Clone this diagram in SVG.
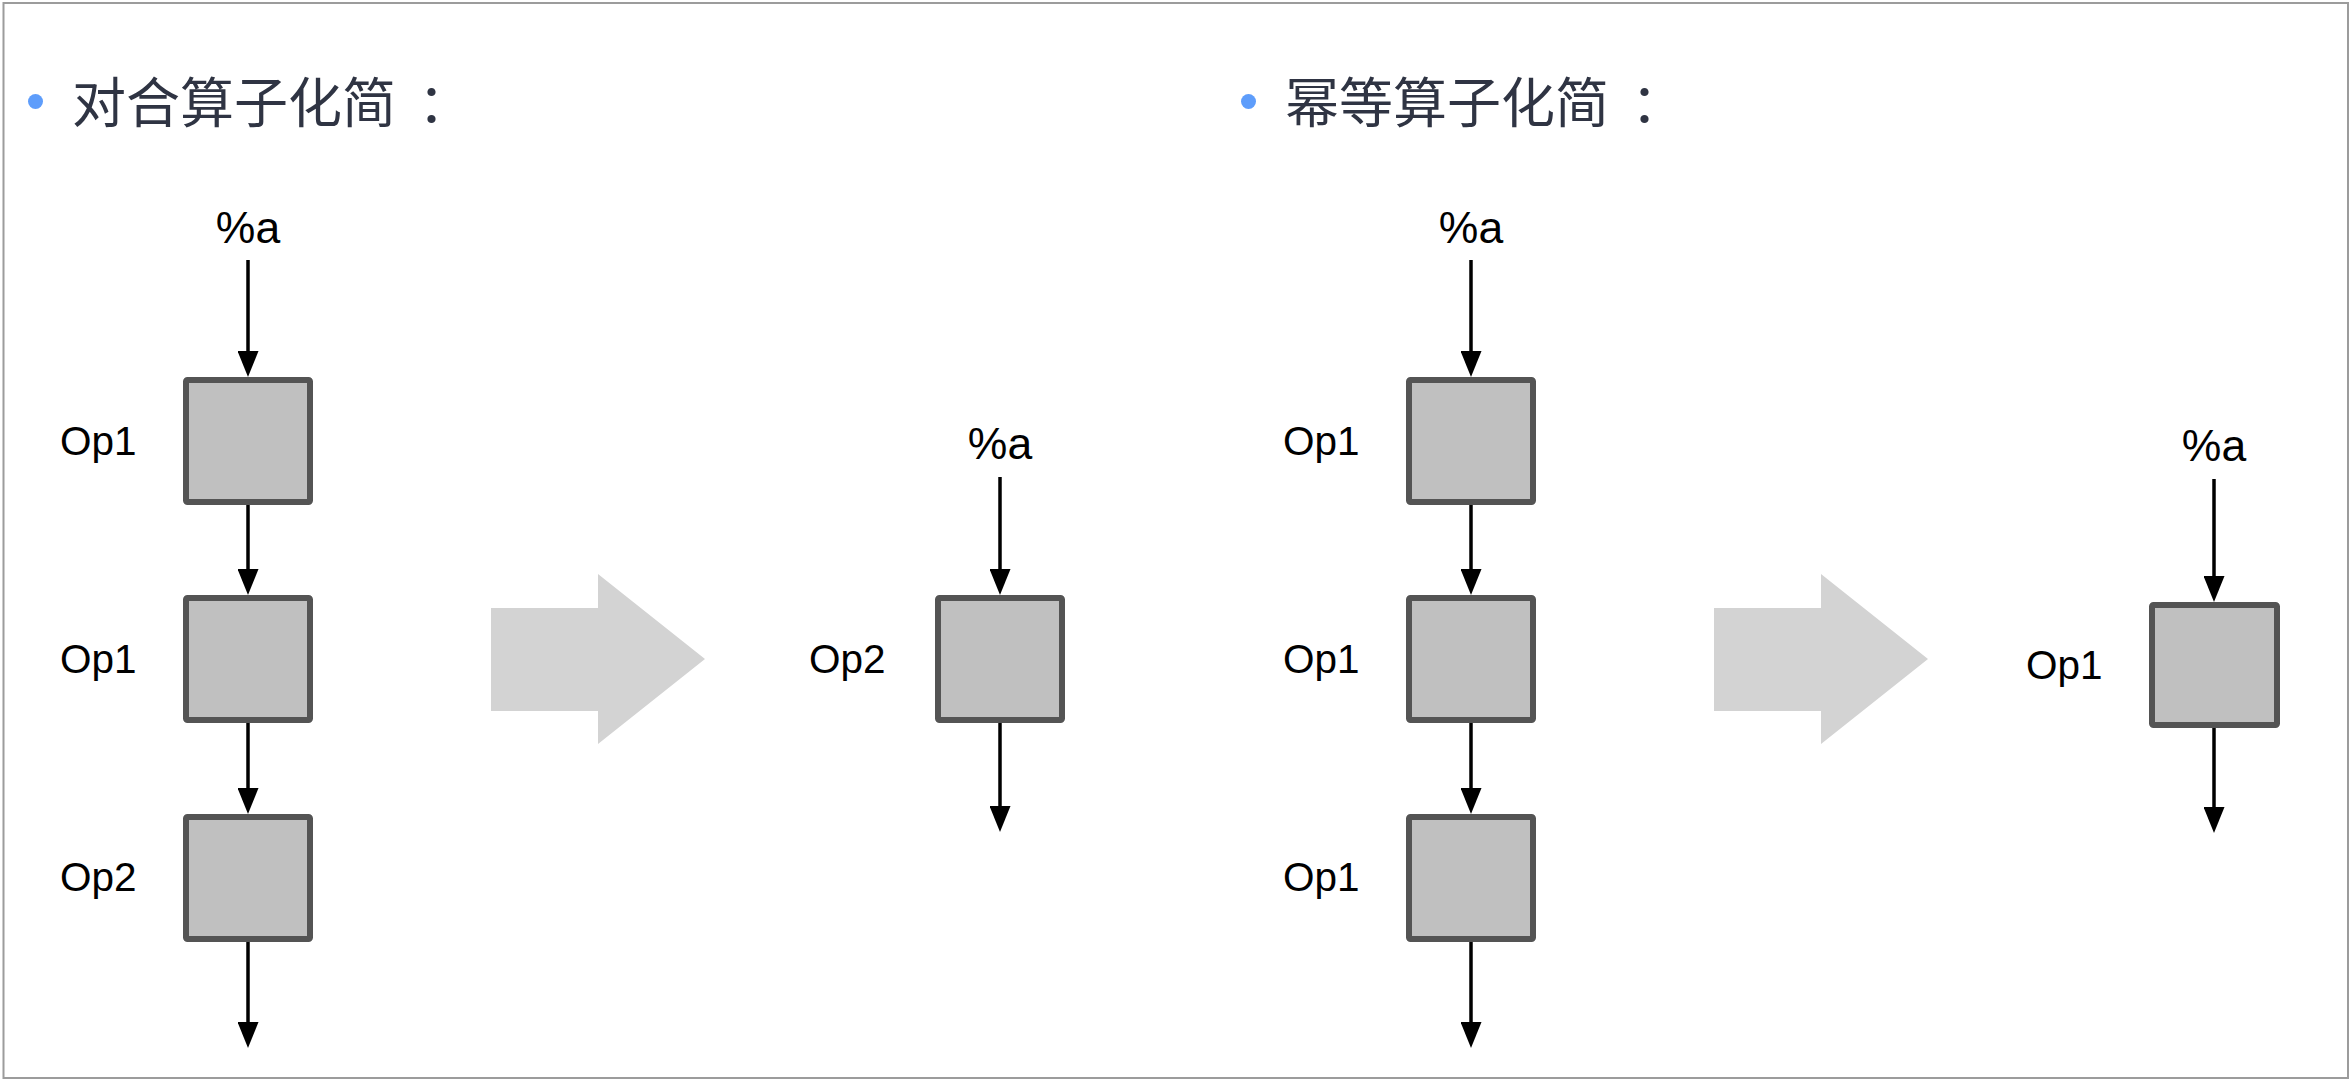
<svg xmlns="http://www.w3.org/2000/svg" width="2352" height="1082" viewBox="0 0 2352 1082">
<defs>
<marker id="ah" viewBox="0 0 26 21" refX="6" refY="10.5" markerWidth="26" markerHeight="21" markerUnits="userSpaceOnUse" orient="auto">
<path d="M0,0 L26,10.5 L0,21 Z" fill="#000"/>
</marker>
<style>
.title{font-family:"Noto Sans CJK SC","Noto Sans",sans-serif;font-size:54px;fill:#2f3443}
.bullet{fill:#5e9dfb}
.lbl{font-family:"Liberation Sans",Arial,sans-serif;font-size:40.5px;fill:#000}
.var{font-family:"Liberation Sans",Arial,sans-serif;font-size:44.5px;fill:#000;text-anchor:middle}
.box{fill:#c0c0c0;stroke:#545454;stroke-width:6}
.edge{stroke:#000;stroke-width:3.5;fill:none;marker-end:url(#ah)}
.big{fill:#d3d3d3}
</style>
</defs>
<rect x="0" y="0" width="2352" height="1082" fill="#fff"/>
<rect x="3.5" y="3" width="2344.5" height="1075" fill="none" stroke="#9c9c9c" stroke-width="2"/>

<g id="title-left">
<circle class="bullet" cx="35.5" cy="101.5" r="7.5"/>
<text class="title" x="72" y="123">对合算子化简<tspan dx="22">：</tspan></text>
</g>
<g id="title-right">
<circle class="bullet" cx="1248.5" cy="101.5" r="7.5"/>
<text class="title" x="1285" y="123">幂等算子化简<tspan dx="22">：</tspan></text>
</g>

<g id="transform-arrow-left"><polygon class="big" points="491,608 598,608 598,574 705,659 598,744 598,711 491,711"/></g>
<g id="transform-arrow-right"><polygon class="big" points="1714,608 1821,608 1821,574 1928,659 1821,744 1821,711 1714,711"/></g>

<g id="in-a-1"><text class="var" x="248" y="243">%a</text></g>
<g id="L-op1-a"><rect class="box" x="186" y="380" width="124" height="122" rx="1.5"/><text class="lbl" x="60" y="455">Op1</text></g>
<g id="L-op1-b"><rect class="box" x="186" y="598" width="124" height="122" rx="1.5"/><text class="lbl" x="60" y="673">Op1</text></g>
<g id="L-op2"><rect class="box" x="186" y="817" width="124" height="122" rx="1.5"/><text class="lbl" x="60" y="891">Op2</text></g>

<g id="in-a-2"><text class="var" x="1000" y="459">%a</text></g>
<g id="R1-op2"><rect class="box" x="938" y="598" width="124" height="122" rx="1.5"/><text class="lbl" x="809" y="673">Op2</text></g>

<g id="in-a-3"><text class="var" x="1471" y="243">%a</text></g>
<g id="M-op1-a"><rect class="box" x="1409" y="380" width="124" height="122" rx="1.5"/><text class="lbl" x="1283" y="455">Op1</text></g>
<g id="M-op1-b"><rect class="box" x="1409" y="598" width="124" height="122" rx="1.5"/><text class="lbl" x="1283" y="673">Op1</text></g>
<g id="M-op1-c"><rect class="box" x="1409" y="817" width="124" height="122" rx="1.5"/><text class="lbl" x="1283" y="891">Op1</text></g>

<g id="in-a-4"><text class="var" x="2214" y="461">%a</text></g>
<g id="R2-op1"><rect class="box" x="2152" y="605" width="125" height="120" rx="1.5"/><text class="lbl" x="2026" y="679">Op1</text></g>

<g id="connectors">
<line class="edge" x1="248" y1="260" x2="248" y2="357"/>
<line class="edge" x1="248" y1="505" x2="248" y2="575"/>
<line class="edge" x1="248" y1="723" x2="248" y2="794"/>
<line class="edge" x1="248" y1="942" x2="248" y2="1028"/>

<line class="edge" x1="1000" y1="477" x2="1000" y2="575"/>
<line class="edge" x1="1000" y1="723" x2="1000" y2="812"/>

<line class="edge" x1="1471" y1="260" x2="1471" y2="357"/>
<line class="edge" x1="1471" y1="505" x2="1471" y2="575"/>
<line class="edge" x1="1471" y1="723" x2="1471" y2="794"/>
<line class="edge" x1="1471" y1="942" x2="1471" y2="1028"/>

<line class="edge" x1="2214" y1="479" x2="2214" y2="582"/>
<line class="edge" x1="2214" y1="728" x2="2214" y2="813"/>
</g>
</svg>
